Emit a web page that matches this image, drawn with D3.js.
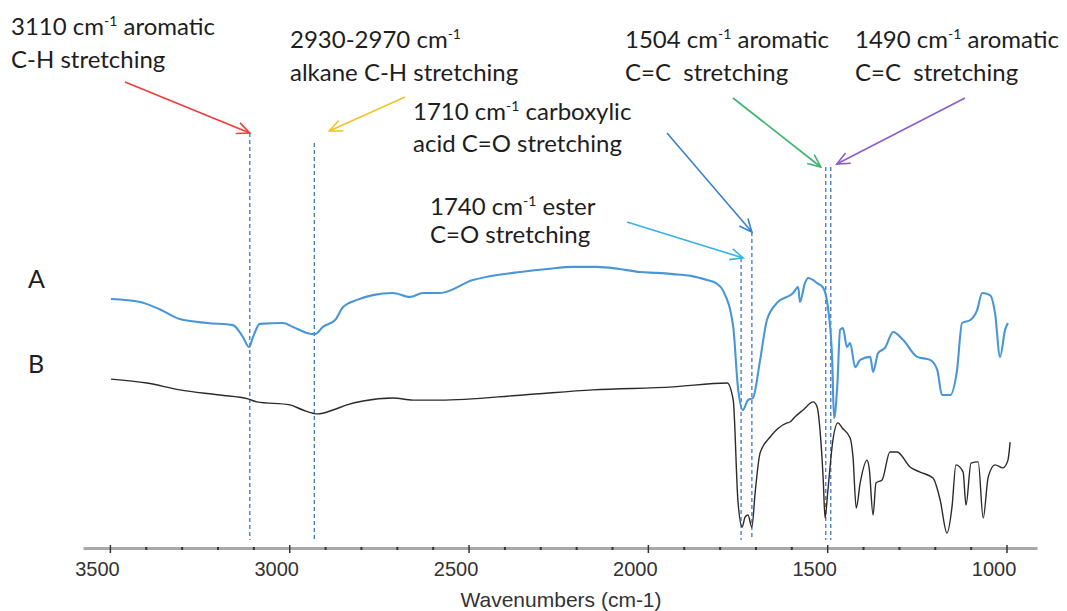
<!DOCTYPE html>
<html>
<head>
<meta charset="utf-8">
<script src="https://cdnjs.cloudflare.com/ajax/libs/d3/7.8.5/d3.min.js"></script>
<style>
  body { margin: 0; background: #fff; }
  svg { display: block; }
</style>
</head>
<body>
<svg id="canvas"></svg>
<script>
// spectrum A (blue), wavenumber in cm-1 and transmittance in arbitrary units
let waveA = [3497, 3416, 3360, 3305, 3229, 3157, 3129, 3112, 3101, 3082, 3018, 2990, 2951, 2928, 2906, 2872, 2850, 2811, 2767, 2711,
  2663, 2627, 2580, 2488, 2420, 2356, 2280, 2209, 2142, 2080, 2022, 1975, 1930, 1880, 1835, 1810, 1790, 1762, 1749, 1735,
  1721, 1707, 1687, 1668, 1640, 1595, 1581, 1576, 1562, 1553, 1528, 1511, 1498, 1486, 1481, 1472, 1464, 1456, 1445, 1436,
  1422, 1408, 1380, 1372, 1358, 1339, 1316, 1288, 1249, 1213, 1193, 1180, 1157, 1138, 1124, 1101, 1082, 1068, 1046, 1032,
  1018, 1004, 996];
let transA = [83.0, 82.0, 79.5, 76.3, 75.0, 74.3, 70.3, 67.0, 70.3, 74.7, 75.0, 73.7, 71.7, 71.3, 73.7, 76.0, 80.3, 82.7, 84.3, 85.0,
  83.7, 85.0, 85.0, 89.3, 91.0, 92.0, 93.0, 93.7, 93.7, 93.0, 92.0, 91.7, 91.3, 90.7, 89.3, 88.3, 85.7, 73.7, 53.7, 46.0,
  49.3, 50.0, 62.7, 76.0, 81.7, 85.0, 87.0, 82.0, 88.3, 90.0, 88.3, 86.7, 80.3, 62.7, 43.3, 53.7, 72.7, 73.3, 67.0, 68.3,
  60.3, 62.7, 63.7, 58.7, 65.0, 66.7, 72.0, 69.3, 63.7, 62.7, 59.3, 51.0, 51.0, 59.3, 75.0, 76.0, 79.3, 85.0, 84.3, 78.3,
  63.7, 72.7, 75.0];

// spectrum B (black)
let waveB = [3497, 3397, 3305, 3193, 3115, 3090, 2998, 2962, 2920, 2878, 2839, 2794, 2711, 2655, 2580, 2348, 2153, 1930, 1779, 1762,
  1749, 1737, 1729, 1721, 1710, 1701, 1687, 1659, 1612, 1604, 1590, 1567, 1539, 1528, 1520, 1511, 1506, 1498, 1484, 1470,
  1458, 1436, 1428, 1419, 1408, 1389, 1383, 1372, 1364, 1347, 1325, 1305, 1269, 1241, 1205, 1185, 1166, 1152, 1141, 1121,
  1113, 1099, 1079, 1065, 1051, 1032, 1010, 996, 990];
let transB = [56.3, 55.0, 52.7, 51.0, 49.7, 48.7, 47.7, 46.0, 44.7, 46.0, 47.7, 49.0, 50.0, 49.3, 49.3, 51.0, 52.7, 53.7, 55.0, 49.3,
  16.0, 7.0, 10.3, 11.0, 7.0, 18.3, 31.7, 37.0, 41.7, 42.0, 43.7, 46.0, 48.7, 47.0, 39.3, 22.7, 10.0, 19.3, 36.0, 41.7,
  40.0, 36.7, 30.3, 13.3, 21.7, 29.3, 26.7, 11.0, 21.7, 22.7, 32.0, 32.0, 27.0, 25.3, 23.3, 16.0, 5.0, 13.7, 27.7, 25.3,
  14.3, 28.3, 28.7, 10.0, 23.7, 27.7, 26.7, 29.3, 35.3];

let majorTicks = [3500, 3000, 2500, 2000, 1500, 1000];
let minorTicks = [3400, 3300, 3200, 3100, 2900, 2800, 2700, 2600, 2400, 2300, 2200, 2100,
  1900, 1800, 1700, 1600, 1400, 1300, 1200, 1100];

// peak annotations
let peakWaves = [3110, 2930, 1740, 1710, 1504, 1490];
let peakNumbers = ['3110', '2930-2970', '1740', '1710', '1504', '1490'];
let peakWords = [' aromatic', '', ' ester', ' carboxylic', ' aromatic', ' aromatic'];
let peakSecond = ['C-H stretching', 'alkane C-H stretching', 'C=O stretching', 'acid C=O stretching', 'C=C  stretching', 'C=C  stretching'];
let peakColors = ['#f23a3a', '#f5c02e', '#35b2e6', '#3a82c6', '#3cb46e', '#8c5ccc'];

// layout of the annotations (pixels)
let labelX = [11, 290, 430, 413, 625, 855];
let labelY1 = [35, 48, 215, 120, 48, 48];
let labelY2 = [68, 81, 243, 152, 81, 81];
let lineTop = [133, 143, 258, 232, 167, 167];
let arrowFrom = [[125, 82], [405, 97], [627, 222], [667, 133], [733, 98], [965, 98]];
let arrowTo = [[0, 0], [15, -12], [2, 0], [0, 0], [-5, 0], [6, -3]];

let width = 1067;
let height = 611;

let svg = d3.select('#canvas')
svg.attr('width', width);
svg.attr('height', height);

let xScale = d3.scaleLinear().domain([3575, 915]).range([83, 1037]);
let yScale = d3.scaleLinear().domain([0, 100]).range([548, 248]);

let textFont = 'Lato, "Open Sans", sans-serif';

let drawAxis = () => {
  let g = svg.append('g').attr('transform', 'translate(0,548)');
  g.call(d3.axisBottom(xScale).tickValues(minorTicks).tickSizeInner(2).tickSizeOuter(0).tickFormat(''));
  g.select('.domain').attr('stroke', '#a8a8a8').attr('stroke-width', 3);
  g.selectAll('.tick line').attr('stroke', '#333').attr('stroke-width', 2).attr('y1', -1);

  let g2 = svg.append('g').attr('transform', 'translate(0,548)');
  g2.call(d3.axisBottom(xScale).tickValues(majorTicks).tickSizeInner(5).tickSizeOuter(0).tickFormat(d3.format('d')));
  g2.select('.domain').remove();
  g2.selectAll('.tick line').attr('stroke', '#333').attr('stroke-width', 1.5).attr('y1', -3);
  g2.selectAll('.tick text')
    .attr('y', 28).attr('dy', 0).attr('dx', -13)
    .attr('fill', '#333')
    .style('font-family', '"Liberation Sans", Arial, sans-serif')
    .style('font-size', '20px');

  svg.append('text')
    .attr('x', 561).attr('y', 607)
    .attr('text-anchor', 'middle')
    .attr('fill', '#333')
    .style('font-family', '"Liberation Sans", Arial, sans-serif')
    .style('font-size', '21px')
    .text('Wavenumbers (cm-1)');
}

let drawMarkers = () => {
  svg.selectAll('line.marker')
    .data(peakWaves)
    .enter()
    .append('line')
    .attr('class', 'marker')
    .attr('x1', (d) => xScale(d))
    .attr('x2', (d) => xScale(d))
    .attr('y1', (d, i) => lineTop[i])
    .attr('y2', 540)
    .attr('stroke', '#3f78c0')
    .attr('stroke-width', 1.3)
    .attr('stroke-dasharray', '4,3');
}

let drawSpectra = () => {
  let spectrumLine = d3.line()
    .x((d) => xScale(d[0]))
    .y((d) => yScale(d[1]))
    .curve(d3.curveMonotoneX);

  svg.append('path')
    .datum(waveA.map((w, i) => [w, transA[i]]))
    .attr('d', spectrumLine)
    .attr('fill', 'none')
    .attr('stroke', '#4896d8')
    .attr('stroke-width', 2.1)
    .attr('stroke-linejoin', 'round');

  svg.append('path')
    .datum(waveB.map((w, i) => [w, transB[i]]))
    .attr('d', spectrumLine)
    .attr('fill', 'none')
    .attr('stroke', '#2b2b2b')
    .attr('stroke-width', 1.4)
    .attr('stroke-linejoin', 'round');
}

let arrowHead = (x1, y1, x2, y2) => {
  let a = Math.atan2(y2 - y1, x2 - x1);
  let len = 14, ang = 0.42;
  let p1 = [x2 - len * Math.cos(a - ang), y2 - len * Math.sin(a - ang)];
  let p2 = [x2 - len * Math.cos(a + ang), y2 - len * Math.sin(a + ang)];
  return 'M' + p1 + 'L' + x2 + ',' + y2 + 'L' + p2;
}

let drawLabels = () => {
  peakWaves.forEach((w, i) => {
    let t = svg.append('text')
      .attr('x', labelX[i]).attr('y', labelY1[i])
      .attr('fill', '#1e1e1e')
      .style('font-family', textFont)
      .style('font-size', '24px');
    t.append('tspan').text(peakNumbers[i] + ' cm');
    t.append('tspan').attr('dy', -9).style('font-size', '14px').text('-1');
    t.append('tspan').attr('dy', 9).text(peakWords[i]);

    svg.append('text')
      .attr('x', labelX[i]).attr('y', labelY2[i])
      .attr('fill', '#1e1e1e')
      .style('font-family', textFont)
      .style('font-size', '24px')
      .style('white-space', 'pre')
      .text(peakSecond[i]);

    let x1 = arrowFrom[i][0], y1 = arrowFrom[i][1];
    let x2 = xScale(w) + arrowTo[i][0], y2 = lineTop[i] + arrowTo[i][1];
    svg.append('line')
      .attr('x1', x1).attr('y1', y1).attr('x2', x2).attr('y2', y2)
      .attr('stroke', peakColors[i]).attr('stroke-width', 1.6);
    svg.append('path')
      .attr('d', arrowHead(x1, y1, x2, y2))
      .attr('fill', 'none')
      .attr('stroke', peakColors[i]).attr('stroke-width', 1.6);
  });

  svg.selectAll('text.sample')
    .data(['A', 'B'])
    .enter()
    .append('text')
    .attr('class', 'sample')
    .attr('x', 28)
    .attr('y', (d, i) => i == 0 ? 288 : 373)
    .attr('fill', '#1e1e1e')
    .style('font-family', textFont)
    .style('font-size', '25px')
    .text((d) => d);
}

drawAxis();
drawMarkers();
drawSpectra();
drawLabels();
</script>
</body>
</html>
